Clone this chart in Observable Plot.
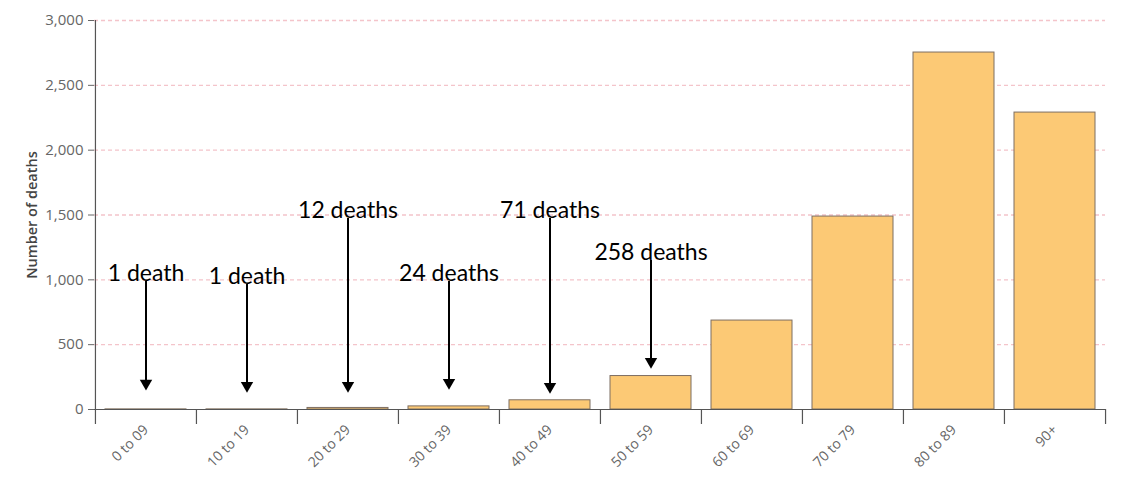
<!DOCTYPE html>
<html><head><meta charset="utf-8">
<script src="https://cdn.jsdelivr.net/npm/d3@7"></script>
<script src="https://cdn.jsdelivr.net/npm/@observablehq/plot@0.6"></script>
<style>
body{margin:0;background:#fff;}
</style>
</head><body><div id="chart"></div>
<script>
const ageGroups = ["0 to 09","10 to 19","20 to 29","30 to 39","40 to 49","50 to 59","60 to 69","70 to 79","80 to 89","90+"];
const deaths = [1, 1, 12, 24, 71, 258, 686, 1488, 2753, 2290];
const yTicks = [0, 500, 1000, 1500, 2000, 2500, 3000];
const annotationGroups = ["0 to 09","10 to 19","20 to 29","30 to 39","40 to 49","50 to 59"];
const annotationLabels = ["1 death","1 death","12 deaths","24 deaths","71 deaths","258 deaths"];
const arrowFrom = [987, 964, 1473, 987, 1473, 1149];
const arrowTo = [147, 131, 131, 154, 123, 316];

const data = ageGroups.map((g, i) => ({group: g, deaths: deaths[i]}));
const notes = annotationGroups.map((g, i) => ({group: g, label: annotationLabels[i], from: arrowFrom[i], to: arrowTo[i]}));

const W = 1143, H = 477, mL = 94, mR = 38, mT = 20, mB = 68;
const bw = (W - mL - mR) / ageGroups.length;
const tickDepth = 15 / (H - mT - mB) * 3000;

const chart = Plot.plot({
  width: W, height: H,
  marginLeft: mL, marginRight: mR, marginTop: mT, marginBottom: mB,
  style: {fontFamily: "'Open Sans', sans-serif", fontSize: "13px", background: "#fff"},
  x: {domain: ageGroups, padding: 0},
  y: {domain: [0, 3000]},
  marks: [
    Plot.ruleY(yTicks.filter(d => d > 0), {stroke: "#f4c4ca", strokeDasharray: "4,3", strokeWidth: 1.3}),
    Plot.barY(data, {x: "group", y: "deaths", fill: "#fcc975", stroke: "#7d6e62", strokeWidth: 1, insetLeft: 10, insetRight: 10}),
    Plot.ruleY([0], {stroke: "#555", strokeWidth: 1.2}),
    Plot.ruleX(ageGroups, {x: d => d, y1: 0, y2: -tickDepth, dx: -bw / 2, stroke: "#555", strokeWidth: 1.2}),
    Plot.ruleX([ageGroups[ageGroups.length - 1]], {x: d => d, y1: 0, y2: -tickDepth, dx: bw / 2, stroke: "#555", strokeWidth: 1.2}),
    Plot.ruleX([ageGroups[0]], {x: d => d, y1: 0, y2: 3000, dx: -bw / 2, stroke: "#555", strokeWidth: 1.2}),
    Plot.axisY({ticks: yTicks, tickFormat: d3.format(","), tickSize: 6, tickPadding: 5, fontSize: 15, color: "#666", label: null}),
    Plot.axisX({tickSize: 0, tickRotate: -45, tickPadding: 18, fontSize: 14, color: "#666", label: null}),
    Plot.text(["Number of deaths"], {frameAnchor: "left", textAnchor: "middle", dx: -62, rotate: -90, fontSize: 14.5, fontWeight: 600, fill: "#444"}),
    Plot.ruleX(notes, {x: "group", y1: "from", y2: "to", stroke: "#000", strokeWidth: 2, insetBottom: 6}),
    Plot.dot(notes, {x: "group", y: "to", symbol: "triangle", rotate: 180, r: 4.6, fill: "#000", stroke: "none", dy: -7}),
    Plot.text(notes, {x: "group", y: "from", text: "label", lineAnchor: "bottom", dy: -1, fontSize: 23, fill: "#000", fontFamily: "Lato, sans-serif"})
  ]
});
document.getElementById("chart").appendChild(chart);
</script>
</body></html>
